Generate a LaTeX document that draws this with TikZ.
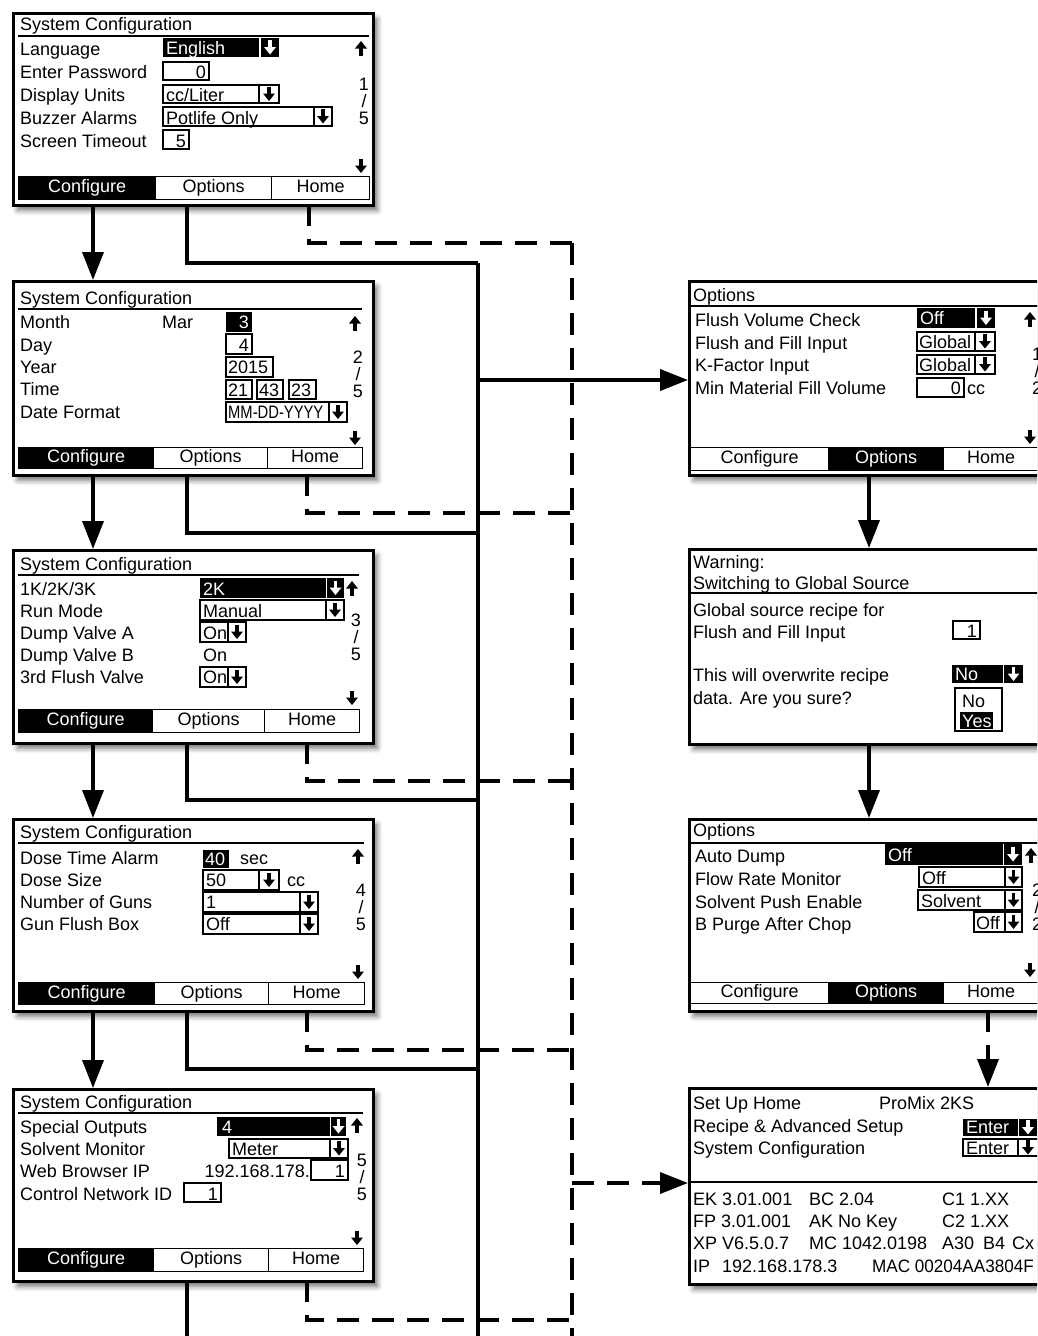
\documentclass[tikz,border=0pt]{standalone}
\usepackage{fontspec}
\setmainfont{Liberation Sans}
\usepackage{graphicx}
\usetikzlibrary{arrows.meta,shadows.blur}
\newcommand\lcdfont{\fontsize{18}{20}\selectfont}
\begin{document}
\begin{tikzpicture}[x=1pt,y=-1pt,
  txt/.style={anchor=base west,inner sep=0pt,font=\lcdfont},
  txtr/.style={anchor=base east,inner sep=0pt,font=\lcdfont},
  txtc/.style={anchor=base,inner sep=0pt,font=\lcdfont},
  wtxt/.style={text=white},
  fld/.style={draw,line width=1.3pt},
  uline/.style={line width=1.3pt},
  scrn/.style={draw,line width=2.8pt,fill=white,anchor=north west,inner sep=0pt,
    blur shadow={shadow xshift=4pt,shadow yshift=-5pt,shadow blur radius=5pt,shadow opacity=55}},
  tabb/.style={draw,line width=1.4pt,anchor=north west,inner sep=0pt,font=\lcdfont,text height=13pt,text depth=4pt},
  tabon/.style={tabb,fill=black,text=white},
  conn/.style={line width=3.6pt,line join=miter},
  dconn/.style={conn,dash pattern=on 22pt off 13pt},
  arrw/.style={-{Triangle[length=28pt,width=21pt]}},
  dnar/.pic={\fill (-1.8,-7.5) rectangle (1.8,0.5); \fill (-6,-0.5) -- (6,-0.5) -- (0,7) -- cycle;},
  upar/.pic={\fill (-1.8,7.5) rectangle (1.8,-0.5); \fill (-6,0.5) -- (6,0.5) -- (0,-7) -- cycle;}
]
\useasboundingbox (0,0) rectangle (1037,1336);
\clip (0,0) rectangle (1037,1336);

% ================= Screen 1 =================
\node[scrn,minimum width=360pt,minimum height=192pt] (s1) at (12,12) {};
\node[txt] (s1t) at (20,30) {System Configuration};
\draw[uline] (18,36) -- (369,36);
\node[txt] (s1r1) at (20,55) {Language};
\node[txt] (s1r2) at (20,78) {Enter Password};
\node[txt] (s1r3) at (20,101) {Display Units};
\node[txt] (s1r4) at (20,124) {Buzzer Alarms};
\node[txt] (s1r5) at (20,147) {Screen Timeout};
\fill (163,38) rectangle (259,57); \node[txt,wtxt] (s1v1) at (166,54) {English};
\fill (261,38) rectangle (279,57); \pic[white] at (270,47.5) {dnar};
\draw[fld] (163,62) rectangle (209,80); \node[txtr] (s1v2) at (206,78) {0};
\draw[fld] (163,85) rectangle (259,103); \node[txt] (s1v3) at (166,101) {cc/Liter};
\draw[fld] (259,85) rectangle (279,103); \pic at (269,94) {dnar};
\draw[fld] (163,107) rectangle (314,126); \node[txt] (s1v4) at (166,124) {Potlife Only};
\draw[fld] (314,107) rectangle (332,126); \pic at (323,116.5) {dnar};
\draw[fld] (163,130) rectangle (189,149); \node[txtr] (s1v5) at (186,147) {5};
\pic at (361,48) {upar};
\node[txtc] (s1p1) at (364,90) {1};
\node[txtc] (s1p2) at (364,107) {/};
\node[txtc] (s1p3) at (364,124) {5};
\pic at (361,166) {dnar};
\node[tabon,minimum width=137pt,minimum height=23pt] (s1tc) at (18,176) {Configure};
\node[tabb,minimum width=116pt,minimum height=23pt] (s1to) at (155,176) {Options};
\node[tabb,minimum width=98pt,minimum height=23pt] (s1th) at (271,176) {Home};

% ================= Screen 2 =================
\node[scrn,minimum width=360pt,minimum height=194pt] (s2) at (12,280) {};
\node[txt] (s2t) at (20,304) {System Configuration};
\draw[uline] (18,309) -- (362,309);
\node[txt] (s2r1) at (20,328) {Month};
\node[txt] (s2r2) at (20,351) {Day};
\node[txt] (s2r3) at (20,373) {Year};
\node[txt] (s2r4) at (20,395) {Time};
\node[txt] (s2r5) at (20,418) {Date Format};
\node[txt] (s2m) at (162,328) {Mar};
\fill (226,312) rectangle (252,332); \node[txtr,wtxt] (s2v1) at (249,328) {3};
\draw[fld] (226,334) rectangle (252,354); \node[txtr] (s2v2) at (249,351) {4};
\draw[fld] (226,357) rectangle (273,377); \node[txt] (s2v3) at (228,373) {2015};
\draw[fld] (226,380) rectangle (252,399); \node[txt] (s2v4) at (228,396) {21};
\draw[fld] (257,380) rectangle (283,399); \node[txt] (s2v5) at (259,396) {43};
\draw[fld] (289,380) rectangle (316,399); \node[txt] (s2v6) at (291,396) {23};
\draw[fld] (226,402) rectangle (329,422); \node[txt] (s2v7) at (228,418) {\scalebox{0.82}[1]{MM-DD-YYYY}};
\draw[fld] (329,402) rectangle (347,422); \pic at (338,412) {dnar};
\pic at (355,323) {upar};
\node[txtc] (s2p1) at (358,363) {2};
\node[txtc] (s2p2) at (358,380) {/};
\node[txtc] (s2p3) at (358,397) {5};
\pic at (355,438) {dnar};
\node[tabon,minimum width=135pt,minimum height=21pt] (s2tc) at (18,447) {Configure};
\node[tabb,minimum width=114pt,minimum height=21pt] (s2to) at (153,447) {Options};
\node[tabb,minimum width=95pt,minimum height=21pt] (s2th) at (267,447) {Home};

% ================= Screen 3 =================
\node[scrn,minimum width=360pt,minimum height=193pt] (s3) at (12,549) {};
\node[txt] (s3t) at (20,570) {System Configuration};
\draw[uline] (18,575) -- (359,575);
\node[txt] (s3r1) at (20,595) {1K/2K/3K};
\node[txt] (s3r2) at (20,617) {Run Mode};
\node[txt] (s3r3) at (20,639) {Dump Valve A};
\node[txt] (s3r4) at (20,661) {Dump Valve B};
\node[txt] (s3r5) at (20,683) {3rd Flush Valve};
\fill (200,578) rectangle (326,598); \node[txt,wtxt] (s3v1) at (203,595) {2K};
\fill (327,578) rectangle (344,598); \pic[white] at (335.5,588) {dnar};
\pic at (352,588) {upar};
\draw[fld] (200,600) rectangle (326,620); \node[txt] (s3v2) at (203,617) {Manual};
\draw[fld] (326,600) rectangle (344,620); \pic at (335,610) {dnar};
\draw[fld] (200,622) rectangle (228,642); \node[txt] (s3v3) at (203,639) {On};
\draw[fld] (228,622) rectangle (246,642); \pic at (237,632) {dnar};
\node[txt] (s3v4) at (203,661) {On};
\draw[fld] (200,667) rectangle (228,687); \node[txt] (s3v5) at (203,683) {On};
\draw[fld] (228,667) rectangle (246,687); \pic at (237,677) {dnar};
\node[txtc] (s3p1) at (356,626) {3};
\node[txtc] (s3p2) at (356,643) {/};
\node[txtc] (s3p3) at (356,660) {5};
\pic at (352,698) {dnar};
\node[tabon,minimum width=134pt,minimum height=23pt] (s3tc) at (18,709) {Configure};
\node[tabb,minimum width=112pt,minimum height=23pt] (s3to) at (152,709) {Options};
\node[tabb,minimum width=95pt,minimum height=23pt] (s3th) at (264,709) {Home};

% ================= Screen 4 =================
\node[scrn,minimum width=360pt,minimum height=192pt] (s4) at (12,818) {};
\node[txt] (s4t) at (20,838) {System Configuration};
\draw[uline] (18,843) -- (364,843);
\node[txt] (s4r1) at (20,864) {Dose Time Alarm};
\node[txt] (s4r2) at (20,886) {Dose Size};
\node[txt] (s4r3) at (20,908) {Number of Guns};
\node[txt] (s4r4) at (20,930) {Gun Flush Box};
\fill (203,850) rectangle (229,868); \node[txt,wtxt] (s4v1) at (205,865) {40};
\node[txt] (s4u1) at (240,864) {sec};
\draw[fld] (203,870) rectangle (259,890); \node[txt] (s4v2) at (206,886) {50};
\draw[fld] (259,870) rectangle (279,890); \pic at (269,880) {dnar};
\node[txt] (s4u2) at (287,886) {cc};
\draw[fld] (203,892) rectangle (300,912); \node[txt] (s4v3) at (206,908) {1};
\draw[fld] (300,892) rectangle (318,912); \pic at (309,902) {dnar};
\draw[fld] (203,914) rectangle (300,934); \node[txt] (s4v4) at (206,930) {Off};
\draw[fld] (300,914) rectangle (318,934); \pic at (309,924) {dnar};
\pic at (358,856) {upar};
\node[txtc] (s4p1) at (361,896) {4};
\node[txtc] (s4p2) at (361,913) {/};
\node[txtc] (s4p3) at (361,930) {5};
\pic at (358,972) {dnar};
\node[tabon,minimum width=136pt,minimum height=22pt] (s4tc) at (18,982) {Configure};
\node[tabb,minimum width=114pt,minimum height=22pt] (s4to) at (154,982) {Options};
\node[tabb,minimum width=96pt,minimum height=22pt] (s4th) at (268,982) {Home};

% ================= Screen 5 =================
\node[scrn,minimum width=360pt,minimum height=192pt] (s5) at (12,1088) {};
\node[txt] (s5t) at (20,1108) {System Configuration};
\draw[uline] (18,1113) -- (363,1113);
\node[txt] (s5r1) at (20,1133) {Special Outputs};
\node[txt] (s5r2) at (20,1155) {Solvent Monitor};
\node[txt] (s5r3) at (20,1177) {Web Browser IP};
\node[txt] (s5r4) at (20,1200) {Control Network ID};
\fill (217,1117) rectangle (330,1136); \node[txt,wtxt] (s5v1) at (222,1133) {4};
\fill (331,1117) rectangle (346,1136); \pic[white] at (338.5,1126.5) {dnar};
\pic at (357,1125) {upar};
\draw[fld] (229,1139) rectangle (330,1158); \node[txt] (s5v2) at (232,1155) {Meter};
\draw[fld] (330,1139) rectangle (348,1158); \pic at (339,1148.5) {dnar};
\node[txtr] (s5v3) at (310,1177) {192.168.178.};
\draw[fld] (311,1160) rectangle (348,1180); \node[txtr] (s5v4) at (345,1177) {1};
\draw[fld] (184,1183) rectangle (221,1202); \node[txtr] (s5v5) at (218,1200) {1};
\node[txtc] (s5p1) at (362,1166) {5};
\node[txtc] (s5p2) at (362,1183) {/};
\node[txtc] (s5p3) at (362,1200) {5};
\pic at (357,1238) {dnar};
\node[tabon,minimum width=135pt,minimum height=23pt] (s5tc) at (18,1248) {Configure};
\node[tabb,minimum width=115pt,minimum height=23pt] (s5to) at (153,1248) {Options};
\node[tabb,minimum width=95pt,minimum height=23pt] (s5th) at (268,1248) {Home};

% ================= Right 1: Options 1/2 =================
\node[scrn,minimum width=362pt,minimum height=194pt] (r1) at (688,280) {};
\node[txt] (r1t) at (693,301) {Options};
\draw[uline] (690,306) -- (1045,306);
\node[txt] (r1r1) at (695,326) {Flush Volume Check};
\node[txt] (r1r2) at (695,349) {Flush and Fill Input};
\node[txt] (r1r3) at (695,371) {K-Factor Input};
\node[txt] (r1r4) at (695,394) {Min Material Fill Volume};
\fill (917,308) rectangle (975,328); \node[txt,wtxt] (r1v1) at (920,324) {Off};
\fill (977,308) rectangle (995,328); \pic[white] at (986,318) {dnar};
\draw[fld] (917,332) rectangle (975,351); \node[txt] (r1v2) at (919,348) {Global};
\draw[fld] (975,332) rectangle (995,351); \pic at (985,341.5) {dnar};
\draw[fld] (917,355) rectangle (975,374); \node[txt] (r1v3) at (919,371) {Global};
\draw[fld] (975,355) rectangle (995,374); \pic at (985,364.5) {dnar};
\draw[fld] (917,378) rectangle (964,397); \node[txtr] (r1v4) at (961,394) {0};
\node[txt] (r1u) at (967,394) {cc};
\pic at (1030,319) {upar};
\node[txtc] (r1p1) at (1037,360) {1};
\node[txtc] (r1p2) at (1037,377) {/};
\node[txtc] (r1p3) at (1037,394) {2};
\pic at (1030,437) {dnar};
\node[tabb,minimum width=138pt,minimum height=23pt] (r1tc) at (690,447) {Configure};
\node[tabon,minimum width=115pt,minimum height=23pt] (r1to) at (828,447) {Options};
\node[tabb,minimum width=95pt,minimum height=23pt] (r1th) at (943,447) {Home};

% ================= Right 2: Warning =================
\node[scrn,minimum width=362pt,minimum height=195pt] (r2) at (688,548) {};
\node[txt] (r2t1) at (693,568) {Warning:};
\node[txt] (r2t2) at (693,589) {Switching to Global Source};
\draw[uline] (690,593) -- (1045,593);
\node[txt] (r2r1) at (693,616) {Global source recipe for};
\node[txt] (r2r2) at (693,638) {Flush and Fill Input};
\draw[fld] (953,621) rectangle (980,639); \node[txtr] (r2v1) at (977,637) {1};
\node[txt] (r2r3) at (693,681) {This will overwrite recipe};
\node[txt] (r2r4) at (693,704) {data. Are you sure?};
\fill (952,665) rectangle (1003,683); \node[txt,wtxt] (r2v2) at (955,680) {No};
\fill (1004,665) rectangle (1023,683); \pic[white] at (1013.5,674) {dnar};
\draw[fld] (955,688) rectangle (1002,731);
\node[txt] (r2v3) at (962,707) {No};
\fill (960,712) rectangle (993,729); \node[txt,wtxt] (r2v4) at (962,727) {Yes};

% ================= Right 3: Options 2/2 =================
\node[scrn,minimum width=362pt,minimum height=192pt] (r3) at (688,818) {};
\node[txt] (r3t) at (693,836) {Options};
\draw[uline] (690,843) -- (1045,843);
\node[txt] (r3r1) at (695,862) {Auto Dump};
\node[txt] (r3r2) at (695,885) {Flow Rate Monitor};
\node[txt] (r3r3) at (695,908) {Solvent Push Enable};
\node[txt] (r3r4) at (695,930) {B Purge After Chop};
\fill (885,844) rectangle (1003,865); \node[txt,wtxt] (r3v1) at (888,861) {Off};
\fill (1004,844) rectangle (1022,865); \pic[white] at (1013,854.5) {dnar};
\pic at (1031,855) {upar};
\draw[fld] (919,867) rectangle (1005,887); \node[txt] (r3v2) at (922,884) {Off};
\draw[fld] (1005,867) rectangle (1022,887); \pic at (1013.5,877) {dnar};
\draw[fld] (918,890) rectangle (1005,910); \node[txt] (r3v3) at (921,907) {Solvent};
\draw[fld] (1005,890) rectangle (1022,910); \pic at (1013.5,900) {dnar};
\draw[fld] (974,912) rectangle (1005,932); \node[txt] (r3v4) at (976,929) {Off};
\draw[fld] (1005,912) rectangle (1022,932); \pic at (1013.5,922) {dnar};
\node[txtc] (r3p1) at (1037,896) {2};
\node[txtc] (r3p2) at (1037,913) {/};
\node[txtc] (r3p3) at (1037,930) {2};
\pic at (1030,970) {dnar};
\node[tabb,minimum width=138pt,minimum height=21pt] (r3tc) at (690,982) {Configure};
\node[tabon,minimum width=115pt,minimum height=21pt] (r3to) at (828,982) {Options};
\node[tabb,minimum width=95pt,minimum height=21pt] (r3th) at (943,982) {Home};

% ================= Right 4: Set Up Home =================
\node[scrn,minimum width=362pt,minimum height=196pt] (r4) at (688,1087) {};
\node[txt] (r4t1) at (693,1109) {Set Up Home};
\node[txt] (r4t2) at (879,1109) {ProMix 2KS};
\node[txt] (r4r1) at (693,1132) {Recipe \& Advanced Setup};
\fill (963,1119) rectangle (1018,1136); \node[txt,wtxt] (r4v1) at (966,1133) {Enter};
\fill (1019,1119) rectangle (1037,1136); \pic[white] at (1028,1127.5) {dnar};
\node[txt] (r4r2) at (693,1154) {System Configuration};
\draw[fld] (963,1139) rectangle (1018,1156); \node[txt] (r4v2) at (966,1154) {Enter};
\draw[fld] (1018,1139) rectangle (1042,1156); \pic at (1028,1147.5) {dnar};
\draw[uline] (690,1182) -- (1045,1182);
\node[txt] (r4a1) at (693,1205) {EK 3.01.001};
\node[txt] (r4a2) at (809,1205) {BC 2.04};
\node[txt] (r4a3) at (942,1205) {C1 1.XX};
\node[txt] (r4b1) at (693,1227) {FP 3.01.001};
\node[txt] (r4b2) at (809,1227) {AK No Key};
\node[txt] (r4b3) at (942,1227) {C2 1.XX};
\node[txt] (r4c1) at (693,1249) {XP V6.5.0.7};
\node[txt] (r4c2) at (809,1249) {MC 1042.0198};
\node[txt] (r4c3) at (942,1249) {A30};
\node[txt] (r4c4) at (983,1249) {B4};
\node[txt] (r4c5) at (1012,1249) {Cx};
\node[txt] (r4d1) at (693,1272) {IP};
\node[txt] (r4d2) at (722,1272) {192.168.178.3};
\node[txt] (r4d3) at (872,1272) {\scalebox{0.95}[1]{MAC 00204AA3804F}};

% ================= Connectors =================
\coordinate (busT) at (478,263);
\coordinate (busB) at (478,1336);
\coordinate (dbusT) at (572,243);
\coordinate (dbusB) at (572,1336);
\coordinate (b2) at (478,533);
\coordinate (b3) at (478,800);
\coordinate (b4) at (478,1069);
\coordinate (d2) at (572,513);
\coordinate (d3) at (572,781);
\coordinate (d4) at (572,1050);
\coordinate (d5) at (572,1320);
\coordinate (j1) at (478,380);
\coordinate (j2) at (572,1183);
\coordinate (s1c) at (93,204);  \coordinate (s1o) at (187,204);  \coordinate (s1h) at (309,204);
\coordinate (s2c) at (93,474);  \coordinate (s2o) at (187,474);  \coordinate (s2h) at (307,474);
\coordinate (s3c) at (93,742);  \coordinate (s3o) at (187,742);  \coordinate (s3h) at (307,742);
\coordinate (s4c) at (93,1010); \coordinate (s4o) at (187,1010); \coordinate (s4h) at (307,1010);
\coordinate (s5o) at (187,1280); \coordinate (s5h) at (307,1280);
\coordinate (s5end) at (187,1336);
\coordinate (r1o) at (869,474);
\coordinate (r2b) at (869,743);
\coordinate (r3h) at (988,1010);

\draw[conn] (busT) -- (busB);
\draw[dconn] (dbusT) -- (dbusB);
\draw[conn,arrw] (s1c) -- (s1c |- s2.north);
\draw[conn,arrw] (s2c) -- (s2c |- s3.north);
\draw[conn,arrw] (s3c) -- (s3c |- s4.north);
\draw[conn,arrw] (s4c) -- (s4c |- s5.north);
\draw[conn] (s1o) |- (busT);
\draw[conn] (s2o) |- (b2);
\draw[conn] (s3o) |- (b3);
\draw[conn] (s4o) |- (b4);
\draw[conn] (s5o) -- (s5end);
\draw[dconn] (s1h) |- (dbusT);
\draw[dconn] (s2h) |- (d2);
\draw[dconn] (s3h) |- (d3);
\draw[dconn] (s4h) |- (d4);
\draw[dconn] (s5h) |- (d5);
\draw[conn,arrw] (j1) -- (j1 -| r1.west);
\draw[dconn,arrw] (j2) -- (j2 -| r4.west);
\draw[conn,arrw] (r1o) -- (r1o |- r2.north);
\draw[conn,arrw] (r2b) -- (r2b |- r3.north);
\draw[dconn,arrw] (r3h) -- (r3h |- r4.north);
\end{tikzpicture}
\end{document}
